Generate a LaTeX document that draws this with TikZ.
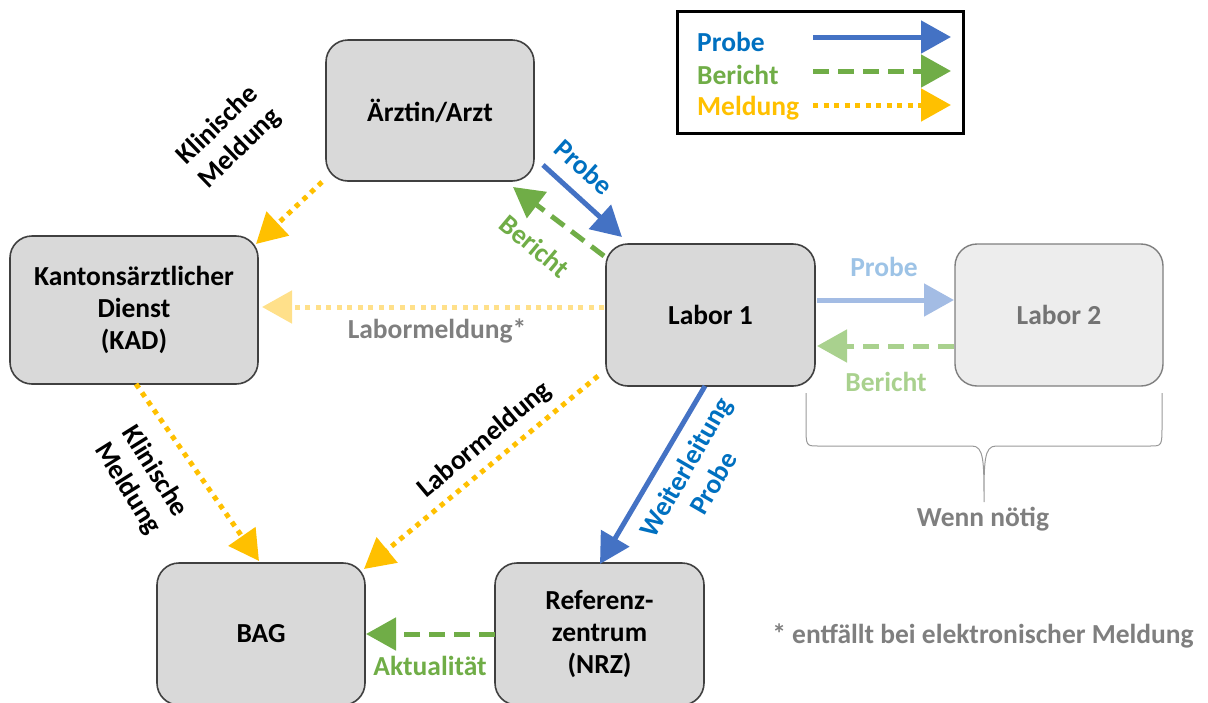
\documentclass[tikz,border=0pt]{standalone}
\usepackage{fontspec}
\setmainfont{Carlito}
\usetikzlibrary{arrows.meta,calc}
\definecolor{pblue}{HTML}{4472C4}
\definecolor{tblue}{HTML}{0070C0}
\definecolor{pgreen}{HTML}{70AD47}
\definecolor{pyellow}{HTML}{FFC000}
\definecolor{lblue}{HTML}{A3BCE4}
\definecolor{ltblue}{HTML}{9DC3E6}
\definecolor{lgreen}{HTML}{A9D18E}
\definecolor{lyellow}{HTML}{FFE08A}
\definecolor{tgrey}{HTML}{7F7F7F}
\definecolor{boxfill}{HTML}{D9D9D9}
\definecolor{boxline}{HTML}{404040}
\tikzset{
  txt/.style={font=\fontsize{27.5}{32}\selectfont\bfseries, align=center, inner sep=0pt},
  unit/.style={txt, draw=boxline, line width=1.6pt, fill=boxfill, rounded corners=22pt},
  faint/.style={txt, draw=tgrey, line width=1.4pt, fill=black!7, rounded corners=22pt, text=black!55},
  tip/.style={-{Triangle[length=30pt,width=32pt]}},
  probe/.style={tip, line width=5pt, draw=pblue},
  bericht/.style={tip, line width=5pt, draw=pgreen, dash pattern=on 16pt off 9pt},
  meldung/.style={tip, line width=5pt, draw=pyellow, dash pattern=on 5pt off 5.5pt},
}
\begin{document}
\begin{tikzpicture}[x=1pt,y=-1pt]
\useasboundingbox (0,0) rectangle (1208,702);

% boxes
\node[unit, minimum width=208pt, minimum height=141pt] (arzt) at (430,110.5) {Ärztin/Arzt};
\node[unit, minimum width=248pt, minimum height=148pt] (kad) at (134,310) {Kantonsärztlicher\\Dienst\\(KAD)};
\node[unit, minimum width=209pt, minimum height=142pt] (lab1) at (710.5,315) {Labor 1};
\node[faint, minimum width=208pt, minimum height=142pt] (lab2) at (1059,315) {Labor 2};
\node[unit, minimum width=208pt, minimum height=142pt] (bag) at (261,634) {BAG};
\node[unit, minimum width=209pt, minimum height=142pt] (nrz) at (599.5,634) {Referenz-\\zentrum\\(NRZ)};

% legend
\node[draw=black, line width=3pt, minimum width=286pt, minimum height=122pt, inner sep=0pt] (leg) at (820,72) {};
\node[txt, text=tblue, anchor=west] (lp) at (697,42) {Probe};
\node[txt, text=pgreen, anchor=west] (lb) at (697,75) {Bericht};
\node[txt, text=pyellow, anchor=west] (lm) at (697,108) {Meldung};
\coordinate (lp1) at (813,37);  \coordinate (lp2) at (951,37);
\coordinate (lb1) at (813,71);  \coordinate (lb2) at (951,71);
\coordinate (lm1) at (813,105); \coordinate (lm2) at (951,105);
\draw[probe] (lp1) -- (lp2);
\draw[bericht] (lb1) -- (lb2);
\draw[meldung] (lm1) -- (lm2);

% arrow end points
\coordinate (a1) at (322,182); \coordinate (k1) at (256,244);
\coordinate (a2) at (543,165); \coordinate (l1) at (622,237);
\coordinate (l2) at (604,256); \coordinate (a3) at (513,187);
\coordinate (l3) at (604,307); \coordinate (k2) at (262,307);
\coordinate (l4) at (817,300); \coordinate (m1) at (954,300);
\coordinate (m2) at (954,346); \coordinate (l5) at (817,346);
\coordinate (l6) at (705,386); \coordinate (n1) at (600,564);
\coordinate (l7) at (598,376); \coordinate (b1) at (364,569);
\coordinate (k3) at (136,384); \coordinate (b2) at (259,561);
\coordinate (n2) at (495,634); \coordinate (b3) at (366,634);

% connectors
\draw[meldung] (a1) -- (k1);
\draw[probe] (a2) -- (l1);
\draw[bericht] (l2) -- (a3);
\draw[meldung, draw=lyellow] (l3) -- (k2);
\draw[probe, draw=lblue] (l4) -- (m1);
\draw[bericht, draw=lgreen] (m2) -- (l5);
\draw[probe] (l6) -- (n1);
\draw[meldung] (l7) -- (b1);
\draw[meldung] (k3) -- (b2);
\draw[bericht] (n2) -- (b3);

% connector labels
\node[txt, rotate=44] (t1) at (229,137) {Klinische\\Meldung};
\node[txt, text=tblue, rotate=-42] (t2) at (584,167) {Probe};
\node[txt, text=pgreen, rotate=-40] (t3) at (535,246) {Bericht};
\node[txt, text=tgrey] (t4) at (437,331) {Labormeldung*};
\node[txt, text=ltblue] (t5) at (884,267) {Probe};
\node[txt, text=lgreen] (t6) at (886,382) {Bericht};
\node[txt, rotate=-58] (t7) at (141,480) {Klinische\\Meldung};
\node[txt, rotate=40] (t8) at (485,440) {Labormeldung};
\node[txt, text=tblue, rotate=60] (t9) at (699,475) {Weiterleitung\\Probe};
\node[txt, text=pgreen] (t10) at (430,666) {Aktualität};
\node[txt, text=tgrey] (t11) at (983,519) {Wenn nötig};
\node[txt, text=tgrey] (t12) at (983,636) {* entfällt bei elektronischer Meldung};

% brace over the optional second lab
\draw[black!40, line width=1pt]
  (806,393) -- (806,425) .. controls (806,446) .. (818,446) -- (972,446)
  .. controls (984,446) and (984,462) .. (984,502)
  .. controls (984,462) and (984,446) .. (996,446) -- (1150,446)
  .. controls (1162,446) .. (1162,425) -- (1162,393);
\end{tikzpicture}
\end{document}
